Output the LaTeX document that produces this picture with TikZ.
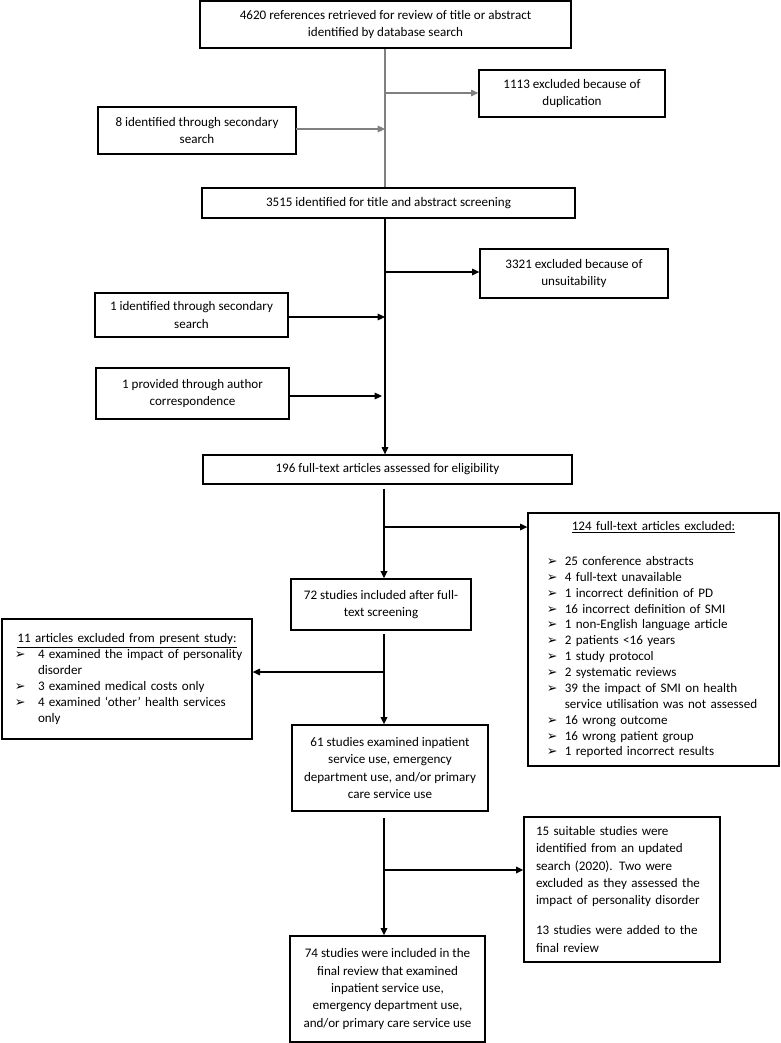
\documentclass[tikz,border=0pt]{standalone}
\usepackage{fontspec}
\setmainfont{Carlito}
\newfontfamily\dejavu{DejaVu Sans}
\usetikzlibrary{arrows.meta,calc}
\newcommand\mainsz{\fontsize{9.8pt}{13.1pt}\selectfont}
\newcommand\listsz{\fontsize{9.8pt}{11.9pt}\selectfont}
\newcommand\lbul[2]{\makebox[#1][l]{\dejavu\fontsize{9.5pt}{8pt}\selectfont ➢}#2}
\begin{document}
\begin{tikzpicture}[x=0.75pt,y=-0.75pt,
  box/.style={draw, line width=1pt, inner sep=0pt, align=center, font=\mainsz},
  lbox/.style={draw, line width=1pt, inner sep=0pt, align=left, font=\listsz},
  gline/.style={draw=black!50, line width=0.8pt},
  bline/.style={draw=black, line width=0.8pt},
  tline/.style={draw=black, line width=1.2pt},
  tip/.style={-{Triangle[length=5.5pt,width=5pt]}}
]
\useasboundingbox (0,0) rectangle (781,1043);
\fill[white] (0,0) rectangle (781,1043);

\node[box, minimum width=278.25pt, minimum height=35.25pt] (A) at (385.5,24.5)
  {4620 references retrieved for review of title or abstract\\identified by database search};
\node[box, minimum width=139.5pt, minimum height=35.25pt] (Dup) at (572,93.5)
  {1113 excluded because of\\duplication};
\node[box, minimum width=148.5pt, minimum height=35.25pt] (S1) at (197,130.5)
  {8 identified through secondary\\search};
\node[box, minimum width=279.75pt, minimum height=22.5pt] (B) at (388.5,203)
  {3515 identified for title and abstract screening};
\node[box, minimum width=141pt, minimum height=36.75pt] (Uns) at (574,273.5)
  {3321 excluded because of\\unsuitability};
\node[box, minimum width=144.75pt, minimum height=33pt] (S2) at (191.5,315)
  {1 identified through secondary\\search};
\node[box, minimum width=144.75pt, minimum height=38.25pt] (S3) at (192.5,393.5)
  {1 provided through author\\correspondence};
\node[box, minimum width=276.75pt, minimum height=21.75pt] (C) at (387.5,469.5)
  {196 full-text articles assessed for eligibility};
\node[lbox, text width=160pt, minimum width=188.25pt, minimum height=189.75pt] (E) at (653.5,639.5)
  {\makebox[160pt][c]{\underline{124 full-text articles excluded:}}\\[14.7pt]
   \lbul{13.5pt}{25 conference abstracts}\\
   \lbul{13.5pt}{4 full-text unavailable}\\
   \lbul{13.5pt}{1 incorrect definition of PD}\\
   \lbul{13.5pt}{16 incorrect definition of SMI}\\
   \lbul{13.5pt}{1 non-English language article}\\
   \lbul{13.5pt}{2 patients <16 years}\\
   \lbul{13.5pt}{1 study protocol}\\
   \lbul{13.5pt}{2 systematic reviews}\\
   \lbul{13.5pt}{39 the impact of SMI on health}\\
   \hspace*{13.5pt}\mbox{service utilisation was not assessed}\\
   \lbul{13.5pt}{16 wrong outcome}\\
   \lbul{13.5pt}{16 wrong patient group}\\
   \lbul{13.5pt}{1 reported incorrect results}};
\node[box, minimum width=135pt, minimum height=38.25pt] (D) at (381,604.5)
  {72 studies included after full-\\text screening};
\node[lbox, text width=168pt, minimum width=187.5pt, minimum height=90pt] (F) at (127,679)
  {\makebox[168pt][c]{\underline{11 articles excluded from present study:}}\\
   \lbul{17.25pt}{\mbox{4 examined the impact of personality}}\\
   \hspace*{17.25pt}disorder\\
   \lbul{17.25pt}{3 examined medical costs only}\\
   \lbul{17.25pt}{4 examined ‘other’ health services}\\
   \hspace*{17.25pt}only};
\node[box, minimum width=147pt, minimum height=64.5pt] (G) at (390,768)
  {61 studies examined inpatient\\service use, emergency\\department use, and/or primary\\care service use};
\node[box, align=left, text width=129pt, minimum width=147pt, minimum height=108.75pt,
      font=\fontsize{9.8pt}{13pt}\selectfont] (I) at (622,889.5)
  {15 suitable studies were\\identified from an updated\\search (2020). Two were\\excluded as they assessed the\\impact of personality disorder\\[9.5pt]13 studies were added to the\\final review};
\node[box, minimum width=146.25pt, minimum height=79.5pt, font=\fontsize{9.8pt}{13pt}\selectfont] (H) at (387.5,989)
  {74 studies were included in the\\final review that examined\\inpatient service use,\\emergency department use,\\and/or primary care service use};

% main line coordinates
\coordinate (m1) at (385,0);
\coordinate (m2) at (384,0);
\coordinate (j1) at (385,93);
\coordinate (j2) at (385,272);
\coordinate (j3) at (384,527);
\coordinate (j4) at (384,672);
\coordinate (j5) at (384,870);
\coordinate (s1) at (296,129);
\coordinate (s2) at (288,317);
\coordinate (s3) at (289,396);

% upper part
\draw[gline] (A.south -| m1) -- (B.north -| m1);
\draw[gline,tip] (j1) -- (j1 -| Dup.west);
\draw[gline,tip] (s1) -- (s1 -| m1);
% middle part
\draw[bline,tip] (B.south -| m1) -- (C.north -| m1);
\draw[bline,tip] (j2) -- (j2 -| Uns.west);
\draw[bline,tip] (s2) -- (s2 -| m1);
\draw[bline,tip] (s3) -- ($(s3 -| m1)+(-3,0)$);
% lower part
\draw[tline,tip] ($(C.south -| m2)+(0,4)$) -- (D.north -| m2);
\draw[bline,tip] (j3) -- (j3 -| E.west);
\draw[tline,tip] ($(D.south -| m2)+(0,3)$) -- (G.north -| m2);
\draw[bline,tip] (j4) -- (j4 -| F.east);
\draw[tline,tip] ($(G.south -| m2)+(0,6)$) -- (H.north -| m2);
\draw[tline,tip] (j5) -- (j5 -| I.west);
\end{tikzpicture}
\end{document}
